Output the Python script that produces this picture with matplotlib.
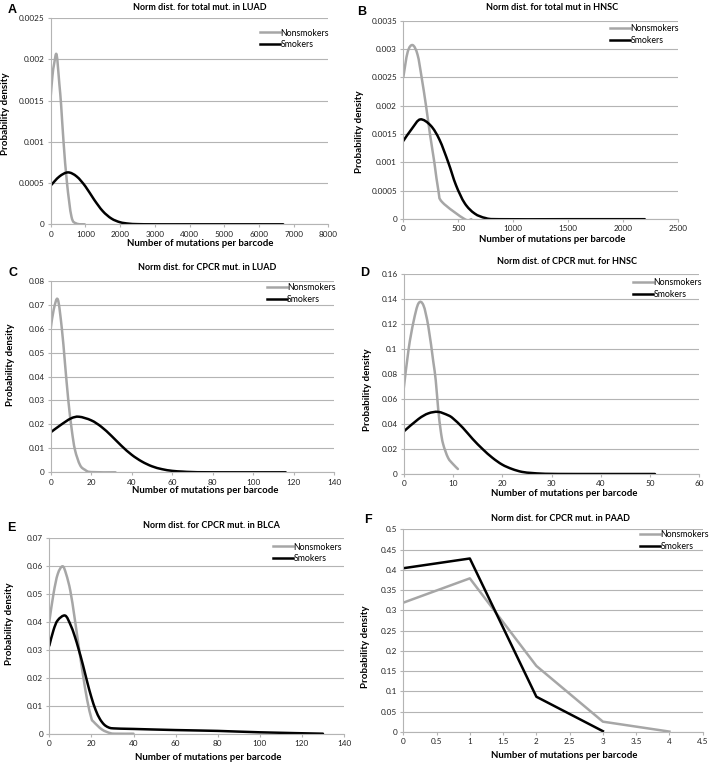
import numpy as np
import matplotlib
matplotlib.use('Agg')
import matplotlib.pyplot as plt
from matplotlib.path import Path
from matplotlib.patches import PathPatch
from matplotlib.lines import Line2D
from matplotlib.ticker import MultipleLocator, FuncFormatter

# A: total mutations, LUAD
a_non_x = [0, 50, 100, 170, 250, 300, 370, 470, 600, 740, 980]
a_non_y = [0.00155, 0.0018, 0.00195, 0.00206, 0.0017, 0.00145, 0.001, 0.0005, 0.00009, 0.00001, 0]
a_smk_x = [0, 250, 500, 750, 1000, 1250, 1500, 1750, 2000, 2250, 2500, 3000, 4000, 5000, 6000, 6700]
a_smk_y = [0.00047, 0.00058, 0.00063, 0.00058, 0.00046, 0.0003, 0.00016, 0.00007, 0.000025, 0.000008,
           0.000002, 0, 0, 0, 0, 0]

# B: total mutations, HNSC
b_non_x = [0, 40, 85, 130, 167, 207, 243, 283, 320, 355, 560, 620]
b_non_y = [0.0025, 0.00295, 0.00307, 0.0029, 0.0025, 0.002, 0.0015, 0.001, 0.0005, 0.0003, 0, 0]
b_smk_x = [0, 80, 155, 250, 330, 410, 480, 560, 650, 750, 870, 1500, 2200]
b_smk_y = [0.00138, 0.0016, 0.00176, 0.00165, 0.0014, 0.001, 0.0006, 0.00028, 0.0001, 0.00002, 0, 0, 0]

# C: CPCR mutations, LUAD
c_non_x = [0, 1.5, 3.5, 5.5, 7, 8.7, 10.4, 12, 14.5, 17, 20, 32]
c_non_y = [0.06, 0.068, 0.0722, 0.06, 0.046, 0.03, 0.0177, 0.0093, 0.003, 0.001, 0.0001, 0]
c_smk_x = [0, 5, 10, 14, 20, 25, 30, 35, 40, 45, 50, 55, 60, 65, 70, 80, 116]
c_smk_y = [0.0167, 0.0198, 0.0225, 0.0232, 0.0217, 0.019, 0.0152, 0.011, 0.0073, 0.0045, 0.0025,
           0.0013, 0.0006, 0.0003, 0.0001, 0, 0]

# D: CPCR mutations, HNSC
d_non_x = [0, 1, 2, 3, 4, 5, 6, 6.5, 7, 7.5, 8, 9, 10, 11]
d_non_y = [0.068, 0.1, 0.122, 0.1365, 0.135, 0.118, 0.09, 0.075, 0.052, 0.035, 0.024, 0.013, 0.008, 0.004]
d_smk_x = [0, 3, 5, 7, 9, 10, 12, 14, 16, 18, 20, 22, 24, 26, 28, 30, 35, 51]
d_smk_y = [0.034, 0.044, 0.0485, 0.0497, 0.047, 0.0445, 0.037, 0.028, 0.02, 0.013, 0.0075, 0.004,
           0.0017, 0.0008, 0.0003, 0.0001, 0, 0]

# E: CPCR mutations, BLCA
e_non_x = [0, 2, 4, 6.3, 8, 10, 12, 14, 16, 18, 20, 21, 25, 29, 32, 40]
e_non_y = [0.04, 0.05, 0.057, 0.0598, 0.057, 0.051, 0.0415, 0.031, 0.021, 0.012, 0.0055, 0.0043,
           0.0015, 0.0002, 0, 0]
e_smk_x = [0, 2, 4, 7.5, 10, 12, 14, 16, 18, 20, 22, 24, 26, 28, 30.5, 40, 60, 80, 100, 130]
e_smk_y = [0.0314, 0.037, 0.0405, 0.0422, 0.039, 0.035, 0.03, 0.0245, 0.0185, 0.013, 0.0085, 0.0053,
           0.0033, 0.0023, 0.0019, 0.0017, 0.0013, 0.001, 0.0005, 0]

# F: CPCR mutations, PAAD
f_non_x = [0, 1, 2, 3, 4]
f_non_y = [0.319, 0.379, 0.163, 0.0255, 0.001]
f_smk_x = [0, 1, 2, 3]
f_smk_y = [0.404, 0.428, 0.087, 0.002]

titles = ['Norm dist. for total mut. in LUAD', 'Norm dist. for total mut in HNSC',
          'Norm dist. for CPCR mut. in LUAD', 'Norm dist. of CPCR mut. for HNSC',
          'Norm dist. for CPCR mut. in BLCA', 'Norm dist. for CPCR mut. in PAAD']
letters = ['A', 'B', 'C', 'D', 'E', 'F']
xlims = [(0, 8000, 1000), (0, 2500, 500), (0, 140, 20), (0, 60, 10), (0, 140, 20), (0, 4.5, 0.5)]
ylims = [(0, 0.0025, 0.0005), (0, 0.0035, 0.0005), (0, 0.08, 0.01), (0, 0.16, 0.02),
         (0, 0.07, 0.01), (0, 0.5, 0.05)]
series = [(a_non_x, a_non_y, a_smk_x, a_smk_y), (b_non_x, b_non_y, b_smk_x, b_smk_y),
          (c_non_x, c_non_y, c_smk_x, c_smk_y), (d_non_x, d_non_y, d_smk_x, d_smk_y),
          (e_non_x, e_non_y, e_smk_x, e_smk_y), (f_non_x, f_non_y, f_smk_x, f_smk_y)]
smooth = [True, True, True, True, True, False]

# layout in pixels (left, top, right, bottom) of plot areas
W, H = 709, 762
boxes = [(50.7, 18.3, 328.3, 224.3), (403.3, 20.7, 677.7, 219.2),
         (50.7, 280.7, 334.3, 472.3), (403.7, 274, 699.3, 474),
         (49.3, 537.7, 344, 733.7), (403.3, 529.3, 702.7, 732)]
title_pos = [(200, 8), (551.7, 7.3), (207, 268), (567, 261.7), (211.7, 525), (560.7, 518.3)]
xlab_pos = [(200, 243), (551.7, 239), (205, 490.7), (563.7, 493.3), (208, 757.3), (564, 755)]
ylab_pos = [(6, 114), (360, 132), (11, 365), (367, 390), (10, 624), (365, 647)]
letter_pos = [(12, 10), (361.5, 11.7), (13.3, 273), (365, 272.7), (11.7, 528), (368, 520)]
legend_pos = [(260, 28.5), (610, 24), (266.7, 283), (633, 278.5), (273, 542.5), (640, 530)]

plt.rcParams['font.family'] = ['Lato', 'DejaVu Sans']
GRID = '#b4b4b4'
GREY = '#a6a6a6'

fig = plt.figure(figsize=(W / 100, H / 100), dpi=100)


def fx(x):
    return x / W


def fy(y):
    return 1 - y / H


def smooth_path(xs, ys):
    # Excel-like smoothed line: cubic Bezier segments through the read points
    p = np.column_stack([xs, ys]).astype(float)
    verts = [p[0]]
    codes = [Path.MOVETO]
    n = len(p)
    for k in range(n - 1):
        p0 = p[k - 1] if k > 0 else p[k]
        p3 = p[k + 2] if k + 2 < n else p[k + 1]
        c1 = p[k] + (p[k + 1] - p0) / 6
        c2 = p[k + 1] - (p3 - p[k]) / 6
        verts += [c1, c2, p[k + 1]]
        codes += [Path.CURVE4] * 3
    return Path(verts, codes)


for i in range(6):
    l, t, r, b = boxes[i]
    ax = fig.add_axes([fx(l), fy(b), (r - l) / W, (b - t) / H])
    nx, ny, sx, sy = series[i]
    for xs_, ys_, c in [(nx, ny, GREY), (sx, sy, 'black')]:
        if smooth[i]:
            ax.add_patch(PathPatch(smooth_path(xs_, ys_), fill=False, edgecolor=c, lw=1.8,
                                   capstyle='round', joinstyle='round'))
        else:
            ax.plot(xs_, ys_, color=c, lw=1.8, solid_joinstyle='round')
    x0, x1, xs = xlims[i]
    y0, y1, ys = ylims[i]
    ax.set_xlim(x0, x1)
    ax.set_ylim(y0, y1)
    ax.xaxis.set_major_locator(MultipleLocator(xs))
    ax.yaxis.set_major_locator(MultipleLocator(ys))
    fmt = FuncFormatter(lambda v, p: '%g' % round(v, 6))
    ax.xaxis.set_major_formatter(fmt)
    ax.yaxis.set_major_formatter(fmt)
    ax.grid(axis='y', color=GRID, lw=0.8)
    ax.set_axisbelow(True)
    for s in ['top', 'right']:
        ax.spines[s].set_visible(False)
    for s in ['left', 'bottom']:
        ax.spines[s].set_color(GRID)
        ax.spines[s].set_linewidth(0.8)
    ax.tick_params(length=2, width=0.8, color=GRID, labelsize=5.9, labelcolor='#222222', pad=2.5)

    handles = [Line2D([], [], color=GREY, lw=1.8), Line2D([], [], color='black', lw=1.8)]
    ax.legend(handles, ['Nonsmokers', 'Smokers'], loc='upper left',
              bbox_to_anchor=(fx(legend_pos[i][0]), fy(legend_pos[i][1])),
              bbox_transform=fig.transFigure, frameon=False, fontsize=6.3, handlelength=2.3,
              handletextpad=0.05, borderpad=0, borderaxespad=0, labelspacing=0.3)

    fig.text(fx(title_pos[i][0]), fy(title_pos[i][1]), titles[i], ha='center', va='center',
             fontsize=6.5, fontweight='bold')
    fig.text(fx(xlab_pos[i][0]), fy(xlab_pos[i][1]), 'Number of mutations per barcode',
             ha='center', va='center', fontsize=6.9, fontweight='bold')
    fig.text(fx(ylab_pos[i][0]), fy(ylab_pos[i][1]), 'Probability density', ha='center',
             va='center', rotation=90, fontsize=7.1, fontweight='bold')
    fig.text(fx(letter_pos[i][0]), fy(letter_pos[i][1]), letters[i], ha='center', va='center',
             fontsize=9, fontweight='bold', family='Liberation Sans')

fig.savefig('out.png', dpi=100)
